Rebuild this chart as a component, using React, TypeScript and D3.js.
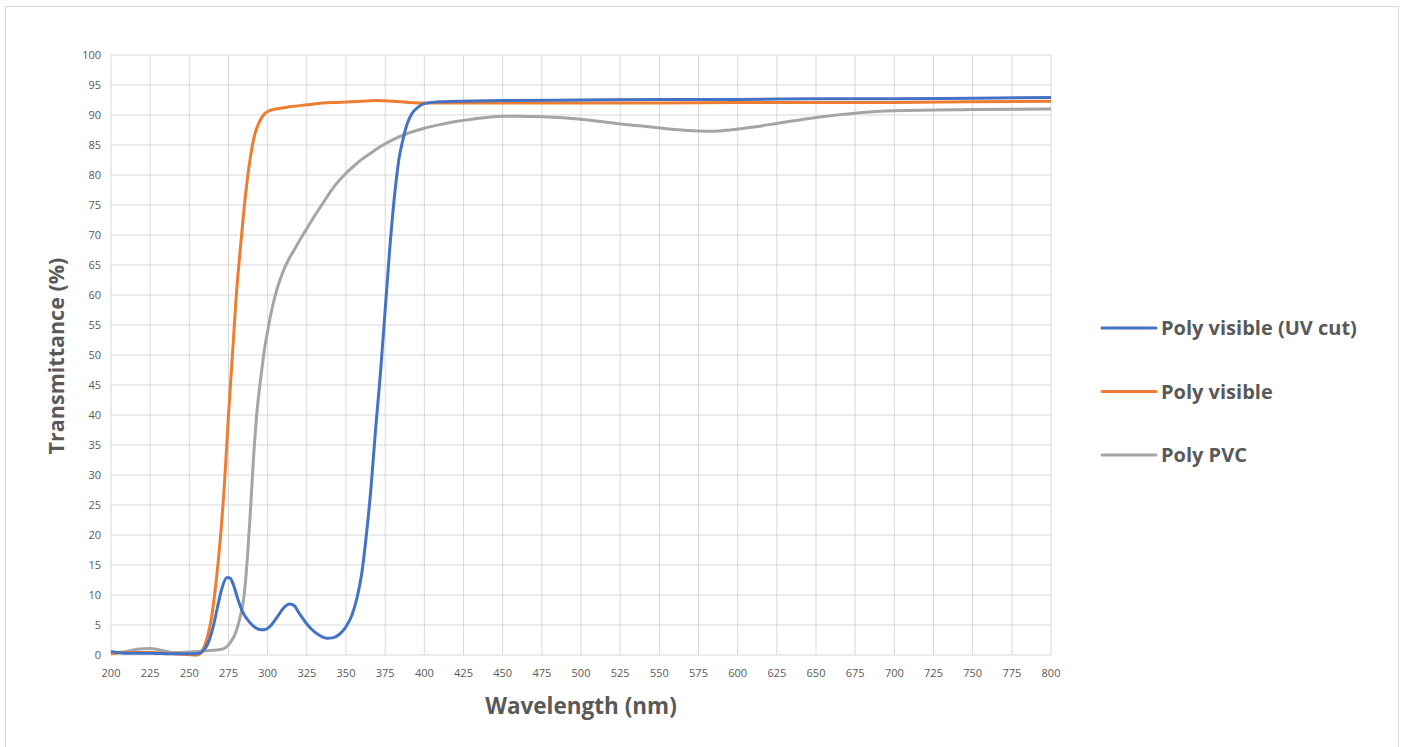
import React from "react";
import * as d3 from "d3";

const xTicks = [200, 225, 250, 275, 300, 325, 350, 375, 400, 425, 450, 475, 500, 525, 550, 575, 600, 625, 650, 675, 700, 725, 750, 775, 800];
const yTicks = [0, 5, 10, 15, 20, 25, 30, 35, 40, 45, 50, 55, 60, 65, 70, 75, 80, 85, 90, 95, 100];

const uvCut: [number, number][] = [
  [200, 0.6], [210, 0.3], [225, 0.3], [240, 0.2], [255, 0.2], [258, 0.5], [262, 2], [265, 4.5], [268, 8], [271, 11.3],
  [274, 12.9], [276, 12.8], [278, 11.8], [281, 9.3], [284, 7.2], [288, 5.6], [292, 4.6], [296, 4.2], [299, 4.3],
  [302, 4.9], [306, 6.3], [310, 7.8], [314, 8.5], [317, 8.2], [320, 7], [324, 5.5], [328, 4.3], [333, 3.3],
  [338, 2.8], [342, 2.9], [346, 3.5], [350, 4.7], [354, 6.8], [357, 9.5], [360, 13.5], [363, 20], [366, 28],
  [369, 38], [372, 47], [374, 54], [376, 61], [378, 68], [380, 74], [382, 79], [384, 83], [386, 85.5],
  [389, 88.5], [392, 90.2], [396, 91.3], [400, 91.9], [410, 92.2], [450, 92.4], [500, 92.5], [550, 92.6],
  [600, 92.6], [650, 92.7], [700, 92.7], [750, 92.8], [800, 92.9]
];

const polyVisible: [number, number][] = [
  [200, 0.2], [210, 0.4], [225, 0.4], [240, 0.2], [255, 0], [258, 0.6], [261, 2.5], [264, 6], [267, 12],
  [270, 20], [273, 31], [275, 40], [278, 52], [280, 60], [283, 69], [286, 77], [289, 83], [292, 87],
  [295, 89], [298, 90.2], [301, 90.7], [305, 91], [310, 91.2], [315, 91.4], [325, 91.7], [335, 92],
  [345, 92.1], [360, 92.3], [370, 92.4], [380, 92.3], [390, 92.1], [400, 92], [450, 92], [500, 92],
  [550, 92], [600, 92.1], [650, 92.1], [700, 92.1], [750, 92.2], [800, 92.3]
];

const polyPVC: [number, number][] = [
  [200, 0.3], [210, 0.6], [218, 1], [225, 1.1], [232, 0.8], [240, 0.4], [250, 0.5], [260, 0.7], [270, 0.9],
  [273, 1.2], [276, 2], [280, 4], [283, 7], [285, 10], [287, 16], [289, 24], [291, 33], [293, 40],
  [296, 47], [298, 51], [300, 54], [303, 58], [306, 61], [310, 64], [314, 66.2], [318, 68], [322, 69.8],
  [326, 71.5], [330, 73.2], [335, 75.2], [340, 77.2], [345, 78.9], [350, 80.3], [355, 81.5], [360, 82.6],
  [365, 83.5], [370, 84.4], [375, 85.2], [380, 85.9], [390, 87], [400, 87.8], [410, 88.4], [420, 88.9],
  [430, 89.3], [440, 89.6], [450, 89.8], [460, 89.8], [475, 89.7], [500, 89.3], [525, 88.5], [545, 88],
  [560, 87.6], [575, 87.35], [585, 87.3], [595, 87.5], [610, 88], [625, 88.6], [650, 89.6], [675, 90.3],
  [700, 90.7], [750, 90.9], [800, 91]
];

const seriesNames = ["Poly visible (UV cut)", "Poly visible", "Poly PVC"];
const seriesColors = ["#4472C4", "#ED7D31", "#A5A5A5"];

export default function App() {
  const W = 1405, H = 747;
  const x = d3.scaleLinear().domain([200, 800]).range([111, 1051]);
  const y = d3.scaleLinear().domain([0, 100]).range([655, 55]);
  const line = d3.line<[number, number]>().x(d => x(d[0])).y(d => y(d[1])).curve(d3.curveMonotoneX);
  const allSeries = [uvCut, polyVisible, polyPVC];
  const drawOrder = [2, 1, 0];
  const font = "'Open Sans', 'Liberation Sans', sans-serif";
  return (
    <svg width={W} height={H} style={{ position: "absolute", left: 0, top: 0, background: "#fff" }} fontFamily={font}>
      <rect x={5.5} y={6.5} width={1393} height={760} fill="#fff" stroke="#d9d9d9" strokeWidth={1} />
      {xTicks.map(t => (
        <line key={"vx" + t} x1={x(t)} x2={x(t)} y1={y(0)} y2={y(100)} stroke="#d9d9d9" strokeWidth={1} />
      ))}
      {yTicks.map(t => (
        <line key={"hy" + t} x1={x(200)} x2={x(800)} y1={y(t)} y2={y(t)} stroke="#d9d9d9" strokeWidth={1} />
      ))}
      {drawOrder.map(i => (
        <path key={"s" + i} d={line(allSeries[i]) || ""} fill="none" stroke={seriesColors[i]} strokeWidth={3} strokeLinejoin="round" />
      ))}
      {yTicks.map(t => (
        <text key={"yl" + t} x={101} y={y(t)} dy="0.35em" textAnchor="end" fontSize={11} fill="#595959">{t}</text>
      ))}
      {xTicks.map(t => (
        <text key={"xl" + t} x={x(t)} y={677} textAnchor="middle" fontSize={11} fill="#595959">{t}</text>
      ))}
      <text x={581} y={714} textAnchor="middle" fontSize={22.5} fontWeight="bold" fill="#595959">Wavelength (nm)</text>
      <text transform={`translate(64,356) rotate(-90)`} textAnchor="middle" fontSize={21.5} fontWeight="bold" fill="#595959">Transmittance (%)</text>
      {seriesNames.map((n, i) => (
        <g key={"lg" + i} transform={`translate(1102,${328 + i * 63.5})`}>
          <line x1={0} x2={54} y1={0} y2={0} stroke={seriesColors[i]} strokeWidth={3} strokeLinecap="round" />
          <text x={59} y={0} dy="0.35em" fontSize={20} fontWeight="bold" fill="#595959">{n}</text>
        </g>
      ))}
    </svg>
  );
}
